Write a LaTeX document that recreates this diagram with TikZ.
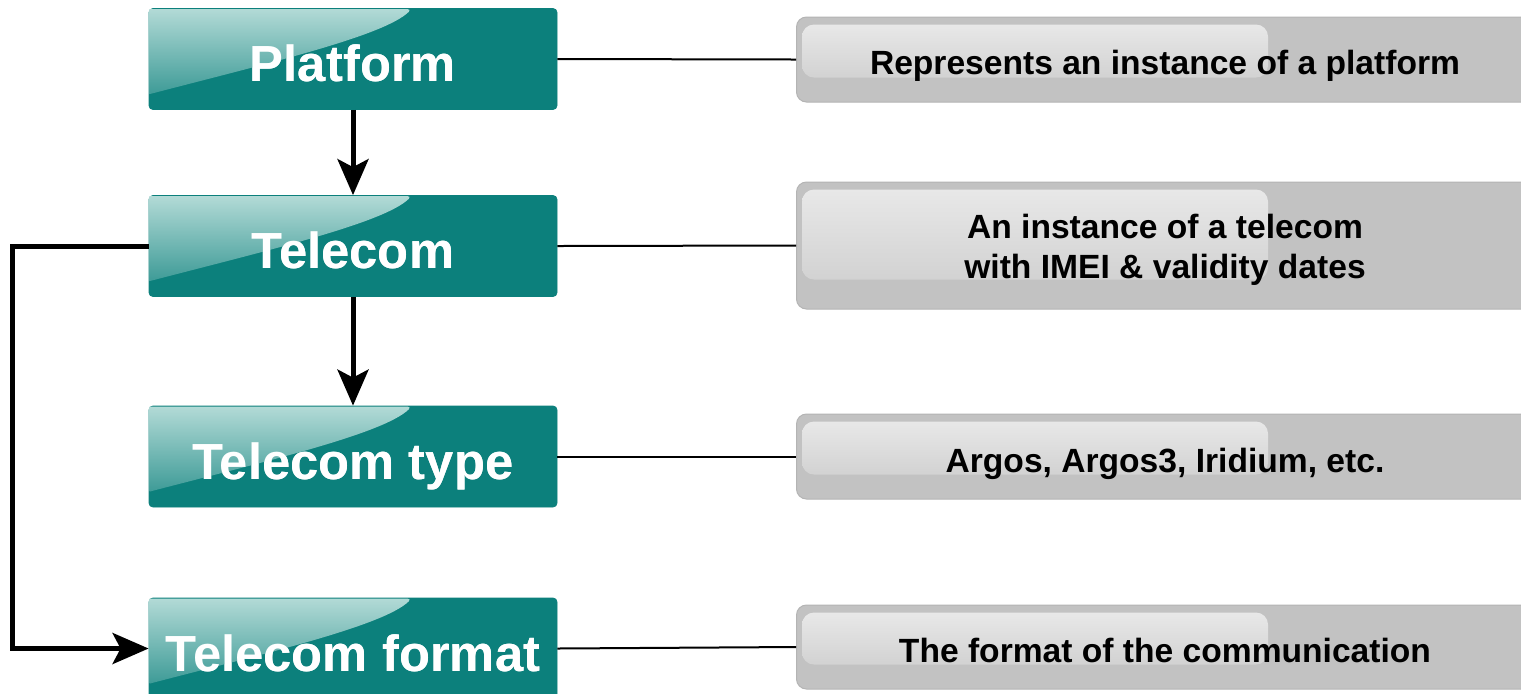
\documentclass[tikz,border=0pt]{standalone}
\usepackage{fontspec}
\setmainfont{Liberation Sans}
\usetikzlibrary{arrows.meta}

\definecolor{tealbox}{RGB}{12,128,124}
\definecolor{tealglow}{RGB}{178,218,214}
\definecolor{greybox}{RGB}{194,194,194}
\definecolor{greyedge}{RGB}{180,180,180}
\definecolor{greyglowtop}{RGB}{232,232,232}
\definecolor{greyglowbot}{RGB}{210,210,210}

% glossy highlight in the upper left part of a teal box
\newcommand{\tealgloss}[1]{%
  \begin{scope}[shift={(#1.north west)}]
    \shade[top color=tealglow, bottom color=tealbox!70!tealglow, rounded corners=2pt]
      (1,1) -- (263,1) [sharp corners] .. controls (235,28) and (120,55) .. (1,86) -- cycle;
  \end{scope}}

% soft lighter pane inside a grey description box
\newcommand{\greygloss}[2]{%
  \begin{scope}[shift={(#1.north west)}]
    \shade[top color=greyglowtop, bottom color=greyglowbot, rounded corners=6pt]
      (6,8) rectangle (472,#2);
  \end{scope}}

\begin{document}
\begin{tikzpicture}[x=0.5pt,y=-0.5pt,
  entity/.style={rectangle, rounded corners=2pt, fill=tealbox, draw=tealbox,
    minimum width=204pt, minimum height=50.5pt, inner sep=0pt,
    text height=22.5pt, text depth=0pt, text=white,
    font=\fontsize{25.4}{30}\selectfont\bfseries},
  descbox/.style={rectangle, rounded corners=5pt, fill=greybox, draw=greyedge,
    line width=0.5pt, minimum width=372pt, inner sep=0pt, anchor=west},
  desc/.style={inner sep=0pt, align=center, text=black,
    font=\fontsize{16.8}{20}\selectfont\bfseries},
  link/.style={draw=black, line width=1pt},
  flow/.style={draw=black, line width=2.5pt,
    -{Stealth[length=18pt, width=15.5pt, inset=4pt]}}]

\clip (0,0) rectangle (1521,693);
\useasboundingbox (0,0) rectangle (1521,693);
\fill[white] (0,0) rectangle (1521,693);

% entity boxes
\node[entity] (P)  at (353,59)    {Platform};
\node[entity] (T)  at (353,246)   {Telecom};
\node[entity] (TT) at (353,456.5) {Telecom type};
\node[entity] (TF) at (353,648.5) {Telecom format};

% description boxes
\node[descbox, minimum height=42.5pt] (gP)  at (796,59.5)  {};
\node[descbox, minimum height=63.5pt] (gT)  at (796,245.5) {};
\node[descbox, minimum height=42.5pt] (gTT) at (796,456.5) {};
\node[descbox, minimum height=42pt]   (gTF) at (796,647)   {};

\greygloss{gP}{61}
\greygloss{gT}{98}
\greygloss{gTT}{61}
\greygloss{gTF}{60}

\tealgloss{P}
\tealgloss{T}
\tealgloss{TT}
\tealgloss{TF}

% labels redrawn above the gloss
\node[entity, fill=none, draw=none] at (P)  {Platform};
\node[entity, fill=none, draw=none] at (T)  {Telecom};
\node[entity, fill=none, draw=none] at (TT) {Telecom type};
\node[entity, fill=none, draw=none] at (TF) {Telecom format};

% description texts
\node[desc, anchor=base]  (dP)  at (1165,74)  {Represents an instance of a platform};
\node[desc, anchor=north] (dT)  at (1165,214) {An instance of a telecom\\with IMEI \& validity dates};
\node[desc, anchor=base]  (dTT) at (1165,472) {Argos, Argos3, Iridium, etc.};
\node[desc, anchor=base]  (dTF) at (1165,662) {The format of the communication};

% connectors to the descriptions
\draw[link] (P.east)  -- (gP.west);
\draw[link] (T.east)  -- (gT.west);
\draw[link] (TT.east) -- (gTT.west);
\draw[link] (TF.east) -- (gTF.west);

% hierarchy arrows
\draw[flow] (P.south) -- (T.north);
\draw[flow] (T.south) -- (TT.north);
\draw[flow] (T.west) -- ++(-136,0) |- (TF.west);
\end{tikzpicture}
\end{document}
